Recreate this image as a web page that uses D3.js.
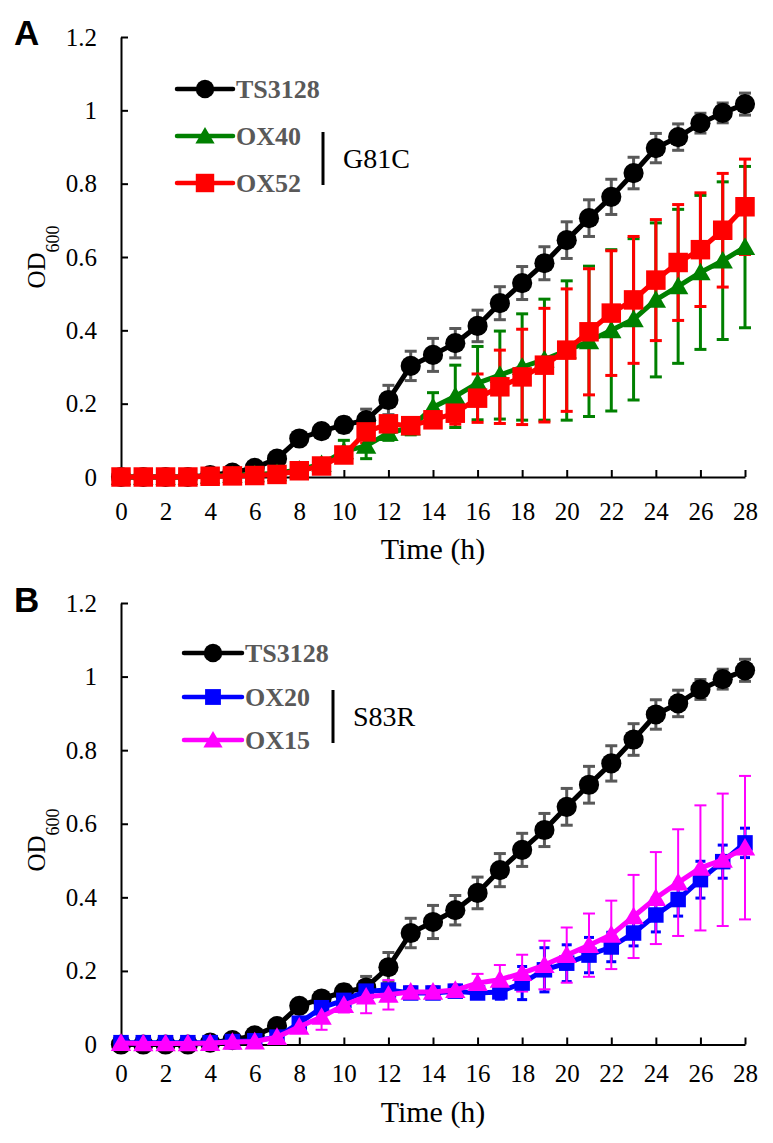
<!DOCTYPE html>
<html>
<head>
<meta charset="utf-8">
<script src="https://cdn.jsdelivr.net/npm/d3@7/dist/d3.min.js"></script>
<style>
  html, body { margin: 0; padding: 0; background: #fff; }
  svg { display: block; }
  .serif { font-family: "Liberation Serif", "Times New Roman", serif; }
  .sans { font-family: "Liberation Sans", Arial, sans-serif; }
</style>
</head>
<body>
<svg id="chart" width="773" height="1143"></svg>
<script>
// ---------------- DATA ----------------
const hours = d3.range(0, 29);              // 0..28 h
const xTickValues = [0,2,4,6,8,10,12,14,16,18,20,22,24,26,28];
const yTickValues = [0,0.2,0.4,0.6,0.8,1,1.2];
const yTickLabels = ["0","0.2","0.4","0.6","0.8","1","1.2"];

const ts3128 =    [0,0,0,0,0.005,0.012,0.025,0.05,0.105,0.125,0.142,0.155,0.21,0.303,0.333,0.365,0.412,0.474,0.529,0.583,0.646,0.706,0.764,0.829,0.897,0.927,0.965,0.993,1.017];
const ts3128Err = [0,0,0,0,0.002,0.004,0.006,0.01,0.012,0.015,0.02,0.03,0.04,0.04,0.045,0.04,0.043,0.045,0.045,0.045,0.05,0.05,0.048,0.043,0.04,0.036,0.027,0.027,0.03];

const ox40 =    [0,0,0,0,0.003,0.005,0.007,0.01,0.02,0.035,0.07,0.085,0.12,0.135,0.19,0.22,0.256,0.278,0.3,0.32,0.345,0.37,0.4,0.43,0.483,0.52,0.558,0.59,0.627];
const ox40Err = [0.004,0.004,0.004,0.004,0.004,0.004,0.005,0.006,0.008,0.01,0.03,0.035,0.02,0.02,0.04,0.085,0.1,0.12,0.145,0.165,0.19,0.205,0.22,0.22,0.21,0.21,0.21,0.215,0.22];

const ox52 =    [0,0,0,0,0.002,0.003,0.004,0.007,0.017,0.03,0.06,0.123,0.145,0.14,0.156,0.174,0.215,0.246,0.273,0.305,0.346,0.396,0.447,0.483,0.537,0.585,0.62,0.673,0.737];
const ox52Err = [0.004,0.004,0.004,0.004,0.004,0.004,0.004,0.005,0.006,0.008,0.02,0.03,0.02,0.02,0.02,0.03,0.066,0.1,0.13,0.155,0.167,0.172,0.17,0.173,0.165,0.158,0.155,0.155,0.13];

const ox20 =    [0.005,0.005,0.005,0.005,0.005,0.008,0.01,0.02,0.058,0.1,0.12,0.145,0.148,0.14,0.14,0.145,0.14,0.143,0.167,0.203,0.221,0.243,0.265,0.303,0.352,0.394,0.448,0.497,0.548];
const ox20Err = [0.01,0.01,0.01,0.01,0.01,0.01,0.01,0.01,0.01,0.02,0.02,0.02,0.015,0.015,0.015,0.015,0.015,0.02,0.045,0.06,0.05,0.048,0.04,0.035,0.046,0.045,0.05,0.045,0.04];

const ox15 =    [0.004,0.003,0.003,0.003,0.004,0.007,0.008,0.02,0.048,0.075,0.107,0.13,0.135,0.143,0.143,0.148,0.167,0.176,0.194,0.216,0.243,0.27,0.298,0.348,0.398,0.44,0.48,0.502,0.535];
const ox15Err = [0.005,0.005,0.005,0.005,0.005,0.005,0.005,0.005,0.015,0.035,0.02,0.045,0.04,0.015,0.015,0.015,0.025,0.04,0.05,0.066,0.075,0.086,0.093,0.113,0.125,0.145,0.17,0.18,0.195];

const panelLetters = ["A","B"];
const xAxisTitle = "Time (h)";
const mutationLabels = ["G81C","S83R"];

// ---------------- DRAW ----------------
const svg = d3.select("#chart");

function sym(type, size) { return d3.symbol().type(type).size(size)(); }

function drawPanel(cfg) {
  const x = d3.scaleLinear().domain([0, 28]).range([121, 745]);
  const y = d3.scaleLinear().domain([0, 1.2]).range([cfg.y0, cfg.y12]);
  const g = svg.append("g");

  // panel letter
  g.append("text").attr("class", "sans").attr("x", 14).attr("y", cfg.letterY)
    .attr("font-weight", "bold").style("font-size", "35px")
    .text(cfg.letter);

  // axes
  const yAxis = d3.axisLeft(y).tickValues(yTickValues)
    .tickFormat((d, i) => yTickLabels[i]).tickSize(-7).tickSizeOuter(0).tickPadding(24);
  const ya = g.append("g").attr("transform", `translate(${x(0)},0)`).call(yAxis);
  const xAxis = d3.axisBottom(x).tickValues(xTickValues)
    .tickFormat(d3.format("d")).tickSize(-7).tickSizeOuter(0).tickPadding(cfg.xPad);
  const xa = g.append("g").attr("transform", `translate(0,${y(0)})`).call(xAxis);
  [ya, xa].forEach(a => {
    a.attr("font-family", null).attr("font-size", null);
    a.select(".domain").attr("stroke", "#000").attr("stroke-width", 2);
    a.selectAll(".tick line").attr("stroke", "#000").attr("stroke-width", 2);
    a.selectAll(".tick text").attr("class", "serif").style("font-size", "25px").attr("fill", "#000");
  });

  // axis titles
  g.append("text").attr("class", "serif").attr("x", 433).attr("y", cfg.titleY).attr("text-anchor", "middle")
    .style("font-size", "30px").text(xAxisTitle);
  const yl = g.append("text").attr("class", "serif")
    .attr("transform", `translate(45,${cfg.ylabY}) rotate(-90)`)
    .attr("text-anchor", "middle").style("font-size", "25px");
  yl.append("tspan").text("OD");
  yl.append("tspan").style("font-size", "18px").attr("dy", 14).text("600");

  // error bars (all series first)
  cfg.series.forEach(s => {
    const eb = g.append("g").attr("stroke", s.errColor).attr("stroke-width", s.errW);
    hours.forEach((h, i) => {
      const v = s.values[i], e = s.errors[i];
      const cx = x(h);
      eb.append("line").attr("x1", cx).attr("x2", cx).attr("y1", y(v - e)).attr("y2", y(v + e));
      [v - e, v + e].forEach(t => {
        eb.append("line").attr("x1", cx - s.capW / 2).attr("x2", cx + s.capW / 2)
          .attr("y1", y(t)).attr("y2", y(t));
      });
    });
  });

  // lines + markers
  cfg.series.forEach(s => {
    const line = d3.line().x((d, i) => x(hours[i])).y(d => y(d));
    g.append("path").datum(s.values).attr("d", line)
      .attr("fill", "none").attr("stroke", s.color).attr("stroke-width", 5)
      .attr("stroke-linejoin", "round");
    g.append("g").selectAll("path").data(s.values).join("path")
      .attr("transform", (d, i) => `translate(${x(hours[i])},${y(d) + (s.type === d3.symbolTriangle ? 2 : 0)})`)
      .attr("d", sym(s.type, s.size)).attr("fill", s.color);
  });

  // legend
  cfg.series.forEach((s, k) => {
    const ly = cfg.legY[k];
    g.append("line").attr("x1", cfg.legX0).attr("x2", cfg.legX1).attr("y1", ly).attr("y2", ly)
      .attr("stroke", s.color).attr("stroke-width", 4.5).attr("stroke-linecap", "round");
    g.append("path").attr("transform", `translate(${(cfg.legX0 + cfg.legX1) / 2},${ly + (s.type === d3.symbolTriangle ? 2 : 0)})`)
      .attr("d", sym(s.type, s.legSize)).attr("fill", s.color);
    g.append("text").attr("class", "serif").attr("x", cfg.legX1 + 3).attr("y", ly).attr("dy", "0.35em")
      .attr("font-weight", "bold").style("font-size", "26px")
      .attr("fill", "#595959").text(s.name);
  });
  // group bar and mutation label
  g.append("line").attr("x1", cfg.barX).attr("x2", cfg.barX)
    .attr("y1", cfg.barY0).attr("y2", cfg.barY1).attr("stroke", "#000").attr("stroke-width", 3);
  g.append("text").attr("class", "serif").attr("x", cfg.barX + 20).attr("y", (cfg.barY0 + cfg.barY1) / 2).attr("dy", "0.35em")
    .style("font-size", "28px").attr("fill", "#000").text(cfg.mutation);
}

drawPanel({
  letter: panelLetters[0], letterY: 45, y0: 477, y12: 37, xPad: 25, titleY: 559, ylabY: 257,
  legX0: 177, legX1: 233, legY: [89, 136, 183], barX: 323, barY0: 132, barY1: 185,
  mutation: mutationLabels[0],
  series: [
    { name: "TS3128", values: ts3128, errors: ts3128Err, color: "#000", errColor: "#595959", errW: 3, capW: 12, type: d3.symbolCircle, size: 320, legSize: 270 },
    { name: "OX40", values: ox40, errors: ox40Err, color: "#008000", errColor: "#008000", errW: 3, capW: 12, type: d3.symbolTriangle, size: 180, legSize: 160 },
    { name: "OX52", values: ox52, errors: ox52Err, color: "#ff0000", errColor: "#ff0000", errW: 3, capW: 12, type: d3.symbolSquare, size: 380, legSize: 340 }
  ]
});

drawPanel({
  letter: panelLetters[1], letterY: 612, y0: 1044.5, y12: 603, xPad: 20, titleY: 1122, ylabY: 840,
  legX0: 184, legX1: 242, legY: [653, 697, 740], barX: 333, barY0: 690, barY1: 743,
  mutation: mutationLabels[1],
  series: [
    { name: "TS3128", values: ts3128, errors: ts3128Err, color: "#000", errColor: "#595959", errW: 3, capW: 12, type: d3.symbolCircle, size: 320, legSize: 270 },
    { name: "OX20", values: ox20, errors: ox20Err, color: "#0000ff", errColor: "#0000ff", errW: 3, capW: 10, type: d3.symbolSquare, size: 240, legSize: 250 },
    { name: "OX15", values: ox15, errors: ox15Err, color: "#ff00ff", errColor: "#ff00ff", errW: 2, capW: 12, type: d3.symbolTriangle, size: 180, legSize: 160 }
  ]
});
</script>
</body>
</html>
